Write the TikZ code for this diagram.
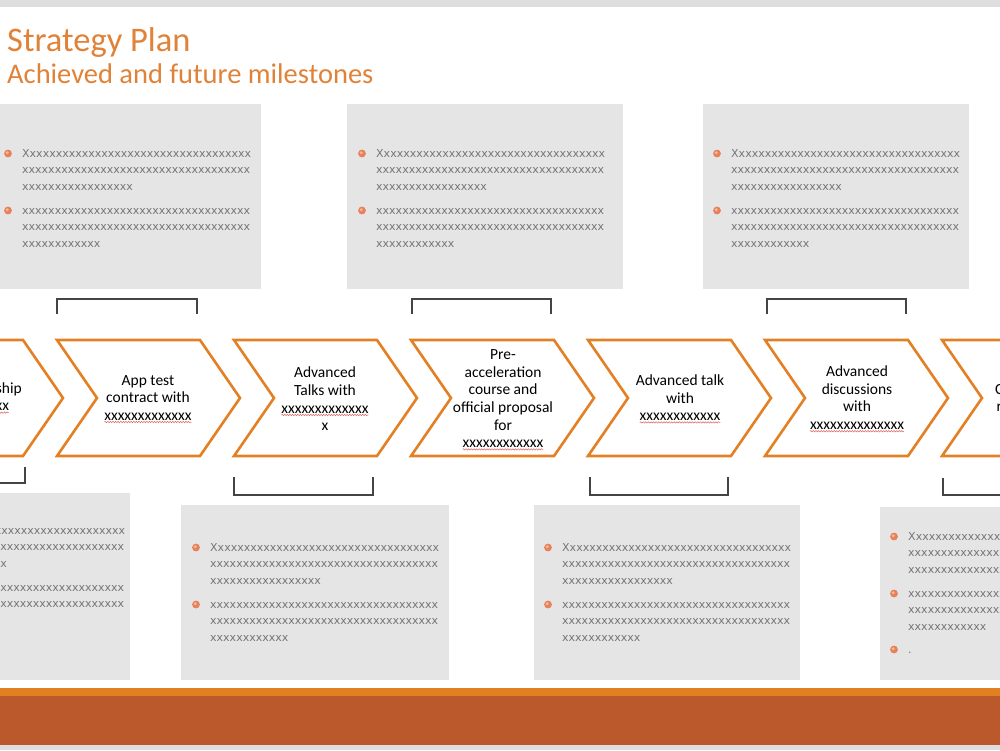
\documentclass[tikz,border=0pt]{standalone}
\usepackage{fontspec}
\setmainfont{Carlito}
\newfontfamily\boxfont{DejaVu Sans}
\usetikzlibrary{decorations.pathmorphing}
\definecolor{titleor}{RGB}{224,130,56}
\definecolor{chevor}{RGB}{228,128,36}
\definecolor{boxgray}{RGB}{229,229,229}
\definecolor{txtgray}{RGB}{118,118,118}
\definecolor{brk}{RGB}{68,68,68}
\definecolor{bandor}{RGB}{224,128,32}
\definecolor{bandrust}{RGB}{188,89,44}
\definecolor{topgray}{RGB}{222,222,222}
\definecolor{bulc}{RGB}{232,128,88}
\definecolor{squig}{RGB}{220,100,100}
\newcommand\redwave[1]{\tikz[baseline=(w.base)]{\node[inner sep=0pt,outer sep=0pt] (w) {#1};
  \draw[squig, line width=0.5pt, decorate, decoration={snake, amplitude=0.7pt, segment length=2.6pt}] ([yshift=-1.8pt]w.south west) -- ([yshift=-1.8pt]w.south east);}}
\ExplSyntaxOn
\cs_new:Npn \xrun #1 { \prg_replicate:nn {#1} {x} }
\ExplSyntaxOff
\newcommand\chevron[1]{\draw[chev] (#1,340) -- ++(143,0) -- ++(40,58) -- ++(-40,58) -- ++(-143,0) -- ++(40,-58) -- cycle;}
\newcommand\bulletdot[2]{\fill[bulc] (#1,#2) circle (3.9); \fill[bulc!55!white] (#1-0.8,#2-0.8) circle (1.6);}
\newcommand\bbox[3]{%
  \bulletdot{#2-14}{#3-3.5}
  \bulletdot{#2-14}{#3+53.5}
  \node[boxtxt] (#1a) at (#2,#3) {X\xrun{34}};
  \node[boxtxt] (#1b) at (#2,#3+16.5) {\xrun{35}};
  \node[boxtxt] (#1c) at (#2,#3+33) {\xrun{17}};
  \node[boxtxt] (#1d) at (#2,#3+57) {\xrun{35}};
  \node[boxtxt] (#1e) at (#2,#3+73.5) {\xrun{35}};
  \node[boxtxt] (#1f) at (#2,#3+90) {\xrun{12}};
}
\begin{document}
\begin{tikzpicture}[x=1pt,y=-1pt,
  chev/.style={draw=chevor, line width=2.6pt, fill=white, line join=miter},
  chevtxt/.style={align=center, font=\fontsize{15.5}{17.6}\selectfont, inner sep=0pt},
  boxtxt/.style={anchor=base west, inner sep=0pt, font=\boxfont\fontsize{11}{13}\selectfont, text=txtgray},
  bracket/.style={draw=brk, line width=1.8pt}]
\useasboundingbox (0,0) rectangle (1000,750);
\fill[white] (0,0) rectangle (1000,750);
% top strip
\fill[topgray] (0,0) rectangle (1000,7);
% title
\node[anchor=base west, inner sep=0pt, text=titleor, font=\fontsize{34.5}{38}\selectfont] (title) at (7,51) {Strategy Plan};
\node[anchor=base west, inner sep=0pt, text=titleor, font=\fontsize{28.5}{32}\selectfont] (subtitle) at (7,83) {Achieved and future milestones};
% gray boxes
\fill[boxgray] (0,104) rectangle (261,289);
\fill[boxgray] (347,104) rectangle (623,289);
\fill[boxgray] (703,104) rectangle (969,289);
\fill[boxgray] (-10,493) rectangle (130,680);
\fill[boxgray] (181,505) rectangle (449,680);
\fill[boxgray] (534,505) rectangle (800,680);
\fill[boxgray] (880,507) rectangle (1010,680);
% box texts
\bbox{bA}{22}{157}
\bbox{bB}{376}{157}
\bbox{bC}{731}{157}
\bbox{bD}{-104}{534}
\bbox{bE}{210}{551}
\bbox{bF}{562}{551}
\bbox{bG}{908}{540}
\bulletdot{894}{649.5}
\node[boxtxt] (bGg) at (908,653) {.};
% brackets
\draw[bracket] (57,314) -- (57,299) -- (197,299) -- (197,314);
\draw[bracket] (412,314) -- (412,299) -- (551,299) -- (551,314);
\draw[bracket] (767,314) -- (767,299) -- (906,299) -- (906,314);
\draw[bracket] (-115,467) -- (-115,483) -- (25,483) -- (25,467);
\draw[bracket] (234,477) -- (234,495) -- (373,495) -- (373,477);
\draw[bracket] (590,477) -- (590,495) -- (728,495) -- (728,477);
\draw[bracket] (943,478) -- (943,495) -- (1083,495) -- (1083,478);
% chevrons
\chevron{-120}
\chevron{57}
\chevron{234}
\chevron{411}
\chevron{588}
\chevron{765}
\chevron{942}
\node[chevtxt] (c1) at (-14.5,398) {Partnership\\\redwave{xxxxxxx}};
\node[chevtxt] (c2) at (148,399) {App test\\contract with\\\redwave{xxxxxxxxxxxxx}};
\node[chevtxt] (c3) at (325,399) {Advanced\\Talks with\\\redwave{xxxxxxxxxxxxx}\\x};
\node[chevtxt] (c4) at (503,400) {Pre-\\acceleration\\course and\\official proposal\\for\\\redwave{xxxxxxxxxxxx}};
\node[chevtxt] (c5) at (680,399) {Advanced talk\\with\\\redwave{xxxxxxxxxxxx}};
\node[chevtxt] (c6) at (857,399) {Advanced\\discussions\\with\\\redwave{xxxxxxxxxxxxxx}};
\node[chevtxt] (c7) at (1022,398) {Contract\\renewal};
% bottom band
\fill[bandor] (0,688) rectangle (1000,696);
\fill[bandrust] (0,696) rectangle (1000,745);
\fill[topgray] (0,745) rectangle (1000,750);
\end{tikzpicture}
\end{document}
